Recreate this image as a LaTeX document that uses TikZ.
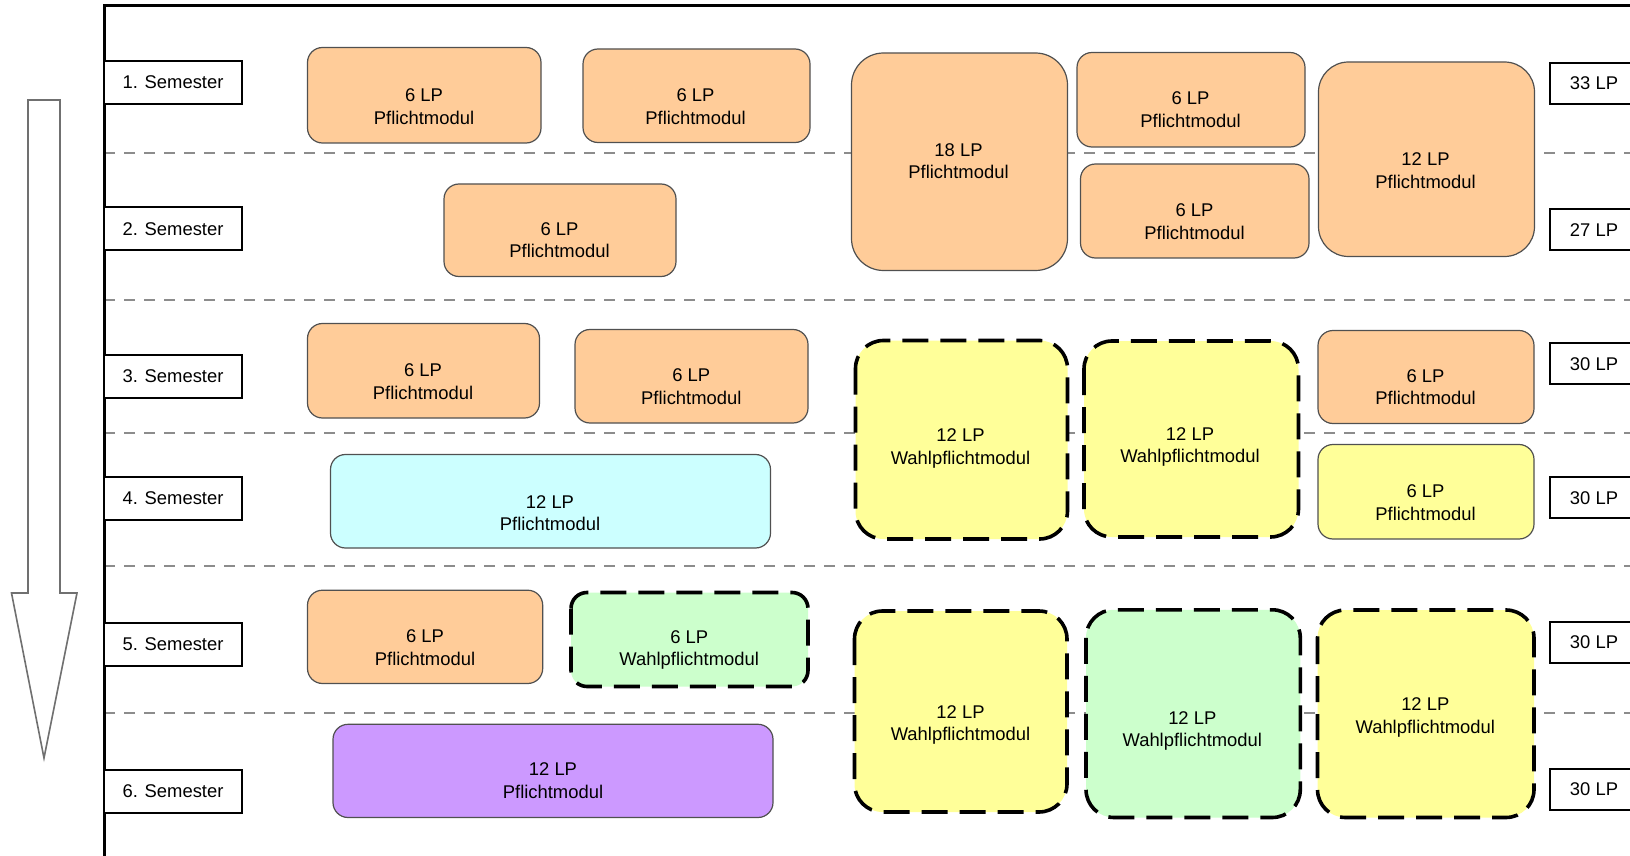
\documentclass[tikz,border=0pt]{standalone}
\usepackage{fontspec}
\setmainfont{Liberation Sans}

\definecolor{pflorange}{HTML}{FFCC99}
\definecolor{gelb}{HTML}{FFFF99}
\definecolor{gruen}{HTML}{CCFFCC}
\definecolor{tuerkis}{HTML}{CCFFFF}
\definecolor{lila}{HTML}{CC99FF}
\definecolor{modrand}{HTML}{505050}
\definecolor{trennlinie}{HTML}{8C8C8C}
\definecolor{pfeilrand}{HTML}{707070}

\tikzset{
  modul/.style={draw=modrand, line width=0.6pt, rounded corners=7.5pt},
  wahl/.style={draw=black, line width=1.8pt, dash pattern=on 13pt off 6pt, rounded corners=14pt},
  modtext/.style={align=center, inner sep=0pt, font=\fontsize{9.2}{11.2}\selectfont},
  semlabel/.style={draw=black, line width=1pt, fill=white, inner sep=0pt,
    minimum width=69pt, minimum height=21.5pt, font=\fontsize{9.2}{11.2}\selectfont},
  lplabel/.style={semlabel, minimum width=44pt, minimum height=20.5pt},
  trenner/.style={draw=trennlinie, line width=1pt, dash pattern=on 5.5pt off 4.5pt},
  pfeil/.style={draw=pfeilrand, line width=0.8pt, fill=white}
}

\begin{document}
\begin{tikzpicture}[x=0.5pt,y=-0.5pt]
\clip (0,0) rectangle (1630,856);
\fill[white] (0,0) rectangle (1630,856);

% Trennlinien zwischen den Semestern
\draw[trenner] (104,153) -- (1630,153);
\draw[trenner] (104,299.5) -- (1630,299.5);
\draw[trenner] (104,432.5) -- (1630,432.5);
\draw[trenner] (104,566) -- (1630,566);
\draw[trenner] (104,713) -- (1630,713);

% Rahmen
\draw[line width=1.5pt] (1640,6) -- (104,6) -- (104,870);

% Pfeil
\draw[pfeil] (28,100) -- (60,100) -- (60,593) -- (77,593) -- (44,758)
  -- (11.5,593) -- (28,593) -- cycle;

% Semester
\node[semlabel] (sem1) at (173,82.5) {1. Semester};
\node[semlabel] (sem2) at (173,229) {2. Semester};
\node[semlabel] (sem3) at (173,376) {3. Semester};
\node[semlabel] (sem4) at (173,498) {4. Semester};
\node[semlabel] (sem5) at (173,644.5) {5. Semester};
\node[semlabel] (sem6) at (173,791.5) {6. Semester};

% Leistungspunkte je Semester
\node[lplabel] (lp1) at (1594,83.3) {33 LP};
\node[lplabel] (lp2) at (1594,229.7) {27 LP};
\node[lplabel] (lp3) at (1594,363.7) {30 LP};
\node[lplabel] (lp4) at (1594,497.8) {30 LP};
\node[lplabel] (lp5) at (1594,642.3) {30 LP};
\node[lplabel] (lp6) at (1594,789.2) {30 LP};

% Module 1./2. Semester
\draw[modul, fill=pflorange] (307.5,47.5) rectangle (541,143);
\node[modtext] (m1) at (424,106.5) {6 LP\\Pflichtmodul};
\draw[modul, fill=pflorange] (583,49) rectangle (810,142.5);
\node[modtext] (m2) at (695.5,106.5) {6 LP\\Pflichtmodul};
\draw[modul, fill=pflorange, rounded corners=16pt] (851.5,53) rectangle (1067.5,270.5);
\node[modtext] (m3) at (958.5,161) {18 LP\\Pflichtmodul};
\draw[modul, fill=pflorange] (1077,52.5) rectangle (1305,147);
\node[modtext] (m4) at (1190.5,109.5) {6 LP\\Pflichtmodul};
\draw[modul, fill=pflorange] (1080.5,164) rectangle (1309,258);
\node[modtext] (m5) at (1194.5,221.5) {6 LP\\Pflichtmodul};
\draw[modul, fill=pflorange, rounded corners=15pt] (1318.5,62) rectangle (1534.5,256.5);
\node[modtext] (m6) at (1425.5,170.5) {12 LP\\Pflichtmodul};
\draw[modul, fill=pflorange] (444,184) rectangle (676,276.5);
\node[modtext] (m7) at (559.5,240) {6 LP\\Pflichtmodul};

% Module 3./4. Semester
\draw[modul, fill=pflorange] (307.5,323.5) rectangle (539.5,418);
\node[modtext] (m8) at (423,381.5) {6 LP\\Pflichtmodul};
\draw[modul, fill=pflorange] (575,329.5) rectangle (808,423);
\node[modtext] (m9) at (691.3,386.7) {6 LP\\Pflichtmodul};
\draw[wahl, fill=gelb] (855.5,340.5) rectangle (1067.5,539);
\node[modtext] (m10) at (960.5,448.5) {12 LP\\Wahlpflichtmodul};
\draw[wahl, fill=gelb] (1084,341) rectangle (1298.5,537);
\node[modtext] (m11) at (1190,447) {12 LP\\Wahlpflichtmodul};
\draw[modul, fill=pflorange] (1318,330.5) rectangle (1534,423.5);
\node[modtext] (m12) at (1425.5,387.2) {6 LP\\Pflichtmodul};
\draw[modul, fill=tuerkis] (330.5,454.5) rectangle (770.5,548);
\node[modtext] (m13) at (550,513) {12 LP\\Pflichtmodul};
\draw[modul, fill=gelb] (1318,444.5) rectangle (1534,539);
\node[modtext] (m14) at (1425.5,502.6) {6 LP\\Pflichtmodul};

% Module 5./6. Semester
\draw[modul, fill=pflorange] (307.5,590.2) rectangle (542.7,683.5);
\node[modtext] (m15) at (425,647.6) {6 LP\\Pflichtmodul};
\draw[wahl, fill=gruen, rounded corners=8pt] (571,592.5) rectangle (808,686.5);
\node[modtext] (m16) at (689.2,649.7) {6 LP\\Wahlpflichtmodul};
\draw[wahl, fill=gelb] (854.5,611) rectangle (1067,812);
\node[modtext] (m17) at (960.5,725) {12 LP\\Wahlpflichtmodul};
\draw[wahl, fill=gruen] (1086,609.8) rectangle (1300.3,817.5);
\node[modtext] (m18) at (1192.3,730.8) {12 LP\\Wahlpflichtmodul};
\draw[wahl, fill=gelb] (1317.5,610) rectangle (1534,817.5);
\node[modtext] (m19) at (1425.3,717.3) {12 LP\\Wahlpflichtmodul};
\draw[modul, fill=lila] (333,724.3) rectangle (773,817.5);
\node[modtext] (m20) at (553,780.7) {12 LP\\Pflichtmodul};
\end{tikzpicture}
\end{document}
